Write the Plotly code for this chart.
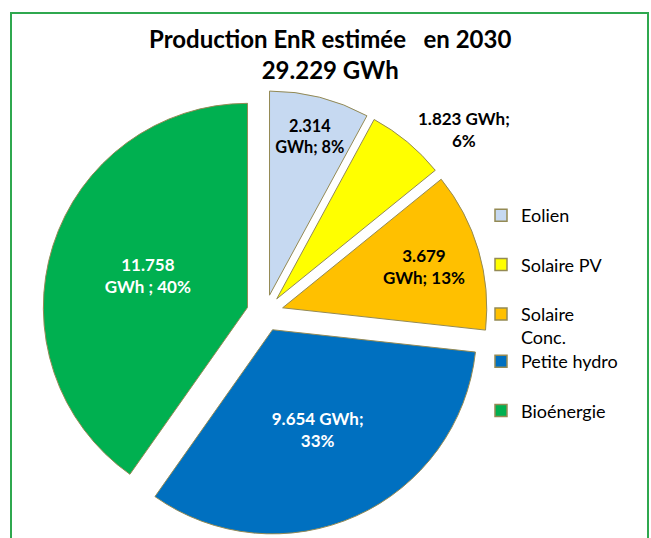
import plotly.graph_objects as go

labels = ["Eolien", "Solaire PV", "Solaire Conc.", "Petite hydro", "Bioénergie"]
legend_labels = ["Eolien", "Solaire PV", "Solaire<br>Conc.", "Petite hydro", "Bioénergie"]
legend_ids = ["legend", "legend", "legend", "legend2", "legend2"]
values = [2314, 1823, 3679, 9654, 11758]
colors = ["#C6D9F1", "#FFFF00", "#FFC000", "#0070C0", "#00B050"]
text_colors = ["#000000", "#000000", "#000000", "#FFFFFF", "#FFFFFF"]
text_positions = ["inside", "outside", "inside", "inside", "inside"]
templates = [
    "%{value:,}<br>GWh; %{percent:.0%}",
    "%{value:,} GWh;<br>%{percent:.0%}",
    "%{value:,}<br>GWh; %{percent:.0%}",
    "%{value:,} GWh;<br>%{percent:.0%}",
    "%{value:,}<br>GWh ; %{percent:.0%}",
]
title_text = "Production EnR estimée   en 2030<br>29.229 GWh"

FONT = "Lato"
W, H = 651, 538
cx, cy, R = 265, 313, 222.5

fig = go.Figure()
fig.add_trace(go.Pie(
    labels=labels, values=values, sort=False, direction="clockwise", rotation=0,
    pull=[0.09] * len(values),
    marker=dict(colors=colors, line=dict(color="#948A54", width=1)),
    texttemplate=templates, textposition=text_positions, insidetextorientation="horizontal",
    textfont=dict(family=FONT, size=17, color=text_colors, weight="bold"),
    outsidetextfont=dict(family=FONT, size=17, color="black", weight="bold"),
    automargin=False,
    showlegend=False, hoverinfo="label+value+percent",
    domain=dict(x=[(cx - R) / W, (cx + R) / W], y=[(H - cy - R) / H, (H - cy + R) / H]),
))
for lab, col, lg in zip(legend_labels, colors, legend_ids):
    fig.add_trace(go.Scatter(
        x=[None], y=[None], mode="markers", name=lab, legendgroup=lab, legend=lg,
        marker=dict(symbol="square", size=12, color=col, line=dict(color="#948A54", width=1.5)),
    ))

legend_common = dict(x=481 / W, xanchor="left", yanchor="top",
                     font=dict(family=FONT, size=18, color="black"),
                     tracegroupgap=23, itemwidth=30, valign="top", bgcolor="rgba(0,0,0,0)")

fig.update_layout(
    width=W, height=H, margin=dict(l=0, r=0, t=0, b=0, autoexpand=False),
    paper_bgcolor="white", plot_bgcolor="white",
    separators=",.",
    annotations=[dict(text=title_text, x=0.507, xref="paper", xanchor="center",
                      y=1 - 22 / H, yref="paper", yanchor="top", showarrow=False,
                      font=dict(family=FONT, size=24, color="black", weight="bold"))],
    xaxis=dict(visible=False), yaxis=dict(visible=False),
    legend=dict(y=1 - 197 / H, **legend_common),
    legend2=dict(y=1 - 343 / H, **legend_common),
    shapes=[dict(type="rect", xref="paper", yref="paper",
                 x0=11 / W, x1=648 / W, y0=-0.05, y1=1 - 13 / H,
                 line=dict(color="#2FA84F", width=2), fillcolor="rgba(0,0,0,0)", layer="below")],
)
fig.write_html("out.html")
